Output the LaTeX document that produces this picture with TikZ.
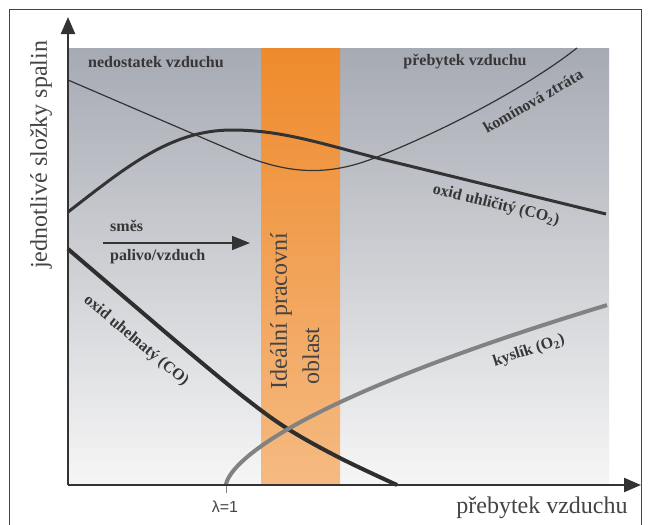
\documentclass[tikz,border=0pt]{standalone}
\usepackage{fontspec}
\setmainfont{Liberation Serif}
\newfontfamily\lsans{Liberation Sans}
\usetikzlibrary{arrows.meta}
\definecolor{txt}{HTML}{363636}
\definecolor{txtb}{HTML}{444444}
\definecolor{gtop}{HTML}{A6AAB3}
\definecolor{gmid}{HTML}{CDD0D4}
\definecolor{gbot}{HTML}{F6F6F6}
\definecolor{otop}{HTML}{EF8A2C}
\definecolor{omid}{HTML}{F2A15A}
\definecolor{obot}{HTML}{F5BA82}
\definecolor{axc}{HTML}{333333}
\definecolor{framec}{HTML}{444444}
\definecolor{oxyc}{HTML}{828282}
\begin{document}
\begin{tikzpicture}[x=1pt,y=-1pt,
  lbl/.style={font=\bfseries\fontsize{16}{18}\selectfont, text=txt, inner sep=0pt},
  bigl/.style={font=\fontsize{24}{26}\selectfont, text=txtb, inner sep=0pt},
  axisline/.style={line width=2.2pt, draw=axc, -{Triangle[length=17pt,width=14pt]}},
  curvethin/.style={line width=1.2pt, draw=axc},
  curvethick/.style={line width=3pt, draw=axc},
  curveco/.style={line width=4pt, draw=axc!90!black},
  curveox/.style={line width=4pt, draw=oxyc},
]
\useasboundingbox (0,0) rectangle (649,525);
\fill[white] (0,0) rectangle (649,525);
% background and band
\shade[top color=gtop, middle color=gmid, bottom color=gbot] (68,48) rectangle (609,485);
\shade[top color=otop, middle color=omid, bottom color=obot] (261,48) rectangle (340,485);
% frame
\draw[framec, line width=1pt] (9,525) -- (9,9) -- (641,9) -- (641,525);
% top labels
\node[lbl] (ned) at (156,62) {nedostatek vzduchu};
\node[lbl] (preb) at (465,62) {přebytek vzduchu};
% kominova ztrata
\draw[curvethin] (68,80) -- (240,154) .. controls (290,175) and (330,176) .. (377,157) .. controls (450,128) and (530,85) .. (577,48);
% CO2
\draw[curvethick] (68,212) .. controls (125,168) and (170,130) .. (232,130) .. controls (280,130) and (320,143) .. (377,158) -- (606,214);
% CO
\draw[curveco] plot[smooth, tension=0.6] coordinates {(68,249) (130,302) (190,353) (245,398) (288,429) (340,458) (397,485)};
% O2
\draw[curveox] plot[domain=0:19.52, samples=80, smooth] ({226+\x*\x}, {485-3.94*(\x)^(1.286)});
% lambda tick
\draw[oxyc, line width=1pt] (226,485) -- (226,493);
\node[font=\lsans\fontsize{16}{18}\selectfont, text=txtb, inner sep=0pt] (lam) at (225,507) {λ=1};
% mixture arrow
\coordinate (ma) at (103,243);
\coordinate (mb) at (250,243);
\draw[line width=1.5pt, draw=axc, -{Triangle[length=18pt,width=14pt]}] (ma) -- (mb);
\node[lbl, anchor=west] (smes) at (110,226) {směs};
\node[lbl, anchor=west] (pal) at (110,257) {palivo/vzduch};
% curve labels
\node[lbl, rotate=30] (kom) at (533,101) {komínová ztráta};
\node[lbl, rotate=-14] (co2) at (496,205) {oxid uhličitý (CO\textsubscript{2})};
\node[lbl, rotate=-40] (co) at (136,341) {oxid uhelnatý (CO)};
\node[lbl, rotate=18] (o2) at (529,351) {kyslík (O\textsubscript{2})};
% band text
\node[font=\fontsize{24}{26}\selectfont, text=txtb, inner sep=0pt, rotate=90] (ide) at (281,311) {Ideální pracovní};
\node[font=\fontsize{24}{26}\selectfont, text=txtb, inner sep=0pt, rotate=90] (obl) at (311,356) {oblast};
% axes
\coordinate (o) at (68,485);
\coordinate (ytip) at (68,17);
\coordinate (xtip) at (641,485);
\draw[axisline] (o) -- (ytip);
\draw[axisline] (o) -- (xtip);
\node[bigl, rotate=90] (ylab) at (41,155) {jednotlivé složky spalin};
\node[bigl] (xlab) at (542,508) {přebytek vzduchu};
\end{tikzpicture}
\end{document}
